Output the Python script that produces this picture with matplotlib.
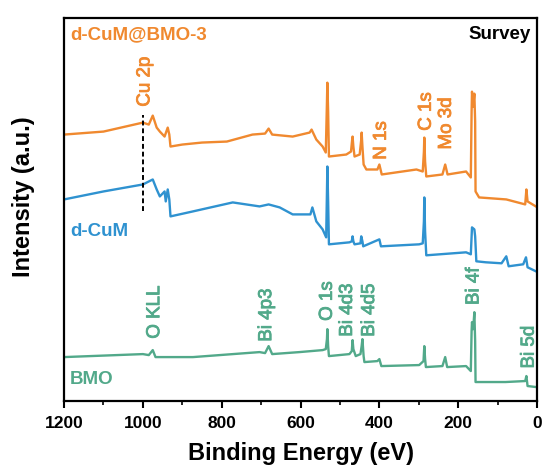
import numpy as np
import matplotlib
matplotlib.use('Agg')
import matplotlib.pyplot as plt
import matplotlib.patheffects as pe
from matplotlib.ticker import MultipleLocator

plt.rcParams['font.family'] = ['Liberation Sans', 'DejaVu Sans']

# d-CuM@BMO-3 (orange), offset intensity in arbitrary units
be_cubmo = [1200, 1100, 1000, 985, 975, 965, 957, 945, 937, 933, 930, 900, 850, 787, 722, 690, 681,
            672, 620, 577, 572, 560, 544, 536, 533, 532, 530, 528, 484, 472, 469, 468, 466, 463, 450,
            446, 445, 443, 440, 433, 405, 400, 394, 306, 290, 287, 286, 284, 281, 240, 233, 227, 180,
            168, 166, 165, 162, 159, 157, 156, 147, 78, 30, 27, 24, 3]
int_cubmo = [267, 270, 279, 277, 286, 274, 270, 265, 274, 267, 255, 257, 259, 260, 267, 268, 273,
             267, 265, 269, 272, 262, 255, 249, 300, 319, 290, 245, 247, 250, 262, 265, 255, 245, 247,
             262, 269, 255, 237, 232, 232, 237, 227, 232, 230, 250, 264, 240, 225, 227, 237, 227, 230,
             224, 290, 310, 295, 308, 280, 210, 204, 202, 197, 212, 200, 195]

# d-CuM (blue)
be_cum = [1200, 1100, 1000, 975, 965, 957, 945, 942, 937, 933, 930, 873, 772, 704, 681, 653, 620,
          575, 570, 560, 544, 535, 533, 532, 530, 528, 476, 470, 468, 466, 463, 448, 446, 443, 441,
          400, 396, 299, 290, 287, 286, 284, 281, 180, 168, 166, 165, 159, 157, 154, 130, 90, 78,
          72, 35, 28, 24, 3]
int_cum = [202, 210, 217, 222, 212, 205, 210, 200, 212, 202, 185, 190, 199, 195, 197, 194, 187,
           187, 194, 180, 172, 164, 210, 235, 200, 157, 159, 160, 165, 160, 157, 158, 165, 160, 155,
           162, 155, 157, 158, 180, 204, 170, 146, 149, 147, 165, 174, 172, 165, 140, 139, 138, 145,
           135, 137, 144, 134, 130]

# BMO (green)
be_bmo = [1200, 1000, 985, 975, 968, 873, 704, 690, 681, 672, 603, 544, 536, 533, 532, 530, 528,
          476, 470, 468, 466, 460, 448, 445, 443, 440, 438, 405, 400, 395, 299, 288, 286, 284, 282,
          240, 233, 228, 180, 168, 166, 165, 162, 159, 157, 156, 80, 30, 27, 24, 3]
int_bmo = [44, 47, 46, 51, 44, 44, 49, 48, 55, 47, 49, 51, 52, 62, 72, 55, 45,
           47, 50, 61, 52, 45, 47, 55, 62, 45, 39, 40, 42, 35, 36, 40, 55, 42, 34,
           35, 44, 34, 35, 30, 70, 79, 72, 89, 60, 19, 19, 20, 25, 15, 14]

orange = '#F0892F'
blue = '#2F92D0'
green = '#52A98A'

fig = plt.figure(figsize=(5.43, 4.69), dpi=100)
ax = fig.add_axes([0.118, 0.145, 0.871, 0.817])

ax.plot(be_cubmo, int_cubmo, color=orange, lw=1.7)
ax.plot(be_cum, int_cum, color=blue, lw=1.7)
ax.plot(be_bmo, int_bmo, color=green, lw=1.7)

ax.plot([1000, 1000], [190, 287], color='black', ls=(0, (2.5, 1.5)), lw=1.4)

ax.set_xlim(1200, 0)
ax.set_ylim(0, 384)
ax.xaxis.set_major_locator(MultipleLocator(200))
ax.xaxis.set_minor_locator(MultipleLocator(100))
ax.set_yticks([])
for s in ax.spines.values():
    s.set_linewidth(1.6)
ax.tick_params(axis='x', which='major', length=5, width=1.5, labelsize=12.5, pad=6)
ax.tick_params(axis='x', which='minor', length=3, width=1.2)
for lab in ax.get_xticklabels():
    lab.set_fontweight('bold')

ax.set_xlabel('Binding Energy (eV)', fontsize=17, fontweight='bold', labelpad=8)
ax.set_ylabel('Intensity (a.u.)', fontsize=17, fontweight='bold')
ax.yaxis.set_label_coords(-0.061, 0.533)

ax.text(1185, 367, 'd-CuM@BMO-3', color=orange, fontsize=13.5, fontweight='bold', ha='left', va='center')
ax.text(15, 367, 'Survey', color='black', fontsize=13.5, fontweight='bold', ha='right', va='center')
ax.text(1185, 170, 'd-CuM', color=blue, fontsize=13.5, fontweight='bold', ha='left', va='center')
ax.text(1185, 22, 'BMO', color=green, fontsize=13.5, fontweight='bold', ha='left', va='center')

peak_orange = [('Cu 2p', 995, 320), ('N 1s', 395, 261), ('C 1s', 281, 290), ('Mo 3d', 230, 278)]
for t, x, y in peak_orange:
    ax.text(x, y, t, color=orange, fontsize=13.5, rotation=90, ha='center', va='center',
            path_effects=[pe.withStroke(linewidth=0.6, foreground=orange)])

peak_green = [('O KLL', 970, 89), ('Bi 4p3', 686, 86), ('O 1s', 532, 100), ('Bi 4d3', 481, 91),
              ('Bi 4d5', 425, 91), ('Bi 4f', 160, 115), ('Bi 5d', 20, 54)]
for t, x, y in peak_green:
    ax.text(x, y, t, color=green, fontsize=13.5, rotation=90, ha='center', va='center',
            path_effects=[pe.withStroke(linewidth=0.6, foreground=green)])

fig.savefig('out.png', dpi=100)
